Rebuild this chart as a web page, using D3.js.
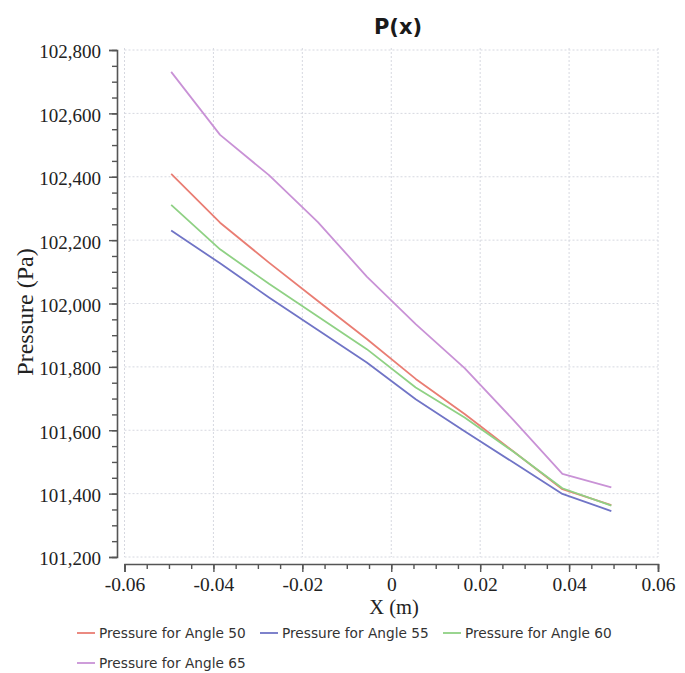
<!DOCTYPE html>
<html>
<head>
<meta charset="utf-8">
<script src="https://cdn.jsdelivr.net/npm/d3@7"></script>
<style>
  body { margin: 0; background: #fff; }
  .tick text { font-family: "Liberation Serif", "Times New Roman", serif; fill: #222; }
  .grid line { stroke: #d6d8e0; stroke-dasharray: 2,2; }
</style>
</head>
<body>
<svg id="chart" width="685" height="673"></svg>
<script>
// x positions of the sample points (m)
var xs = [-0.0495, -0.0385, -0.0275, -0.0165, -0.0055, 0.0055, 0.0165, 0.0275, 0.0385, 0.0495];

// pressure (Pa) per angle
var p50 = [102409, 102255, 102129, 102008, 101888, 101762, 101651, 101533, 101414, 101364];
var p55 = [102230, 102127, 102019, 101916, 101814, 101698, 101597, 101498, 101399, 101345];
var p60 = [102311, 102171, 102062, 101959, 101856, 101735, 101640, 101532, 101417, 101362];
var p65 = [102731, 102532, 102405, 102257, 102085, 101935, 101796, 101632, 101462, 101420];

var seriesNames = ["Pressure for Angle 50", "Pressure for Angle 55", "Pressure for Angle 60", "Pressure for Angle 65"];
var seriesColors = ["#e97d73", "#7074c6", "#8fd184", "#c992d6"];

var xTicks = [-0.06, -0.04, -0.02, 0, 0.02, 0.04, 0.06];
var yTicks = [101200, 101400, 101600, 101800, 102000, 102200, 102400, 102600, 102800];

var series = [p50, p55, p60, p65].map(function (vals, i) {
    return {
        name: seriesNames[i],
        color: seriesColors[i],
        values: vals.map(function (v, j) { return [xs[j], v]; })
    };
});

var svg = d3.select('#chart');

var x = d3.scaleLinear()
    .domain([-0.06, 0.06])
    .range([124.5, 658]);

var y = d3.scaleLinear()
    .domain([101200, 102800])
    .range([557, 50]);

// grid
var grid = svg.append('g').attr('class', 'grid');
grid.selectAll('line.gx')
    .data(xTicks)
    .enter().append('line')
    .attr('x1', function (d) { return x(d); })
    .attr('x2', function (d) { return x(d); })
    .attr('y1', y(102800) - 2)
    .attr('y2', y(101200));
grid.selectAll('line.gy')
    .data(yTicks)
    .enter().append('line')
    .attr('x1', x(-0.06))
    .attr('x2', x(0.06))
    .attr('y1', function (d) { return y(d); })
    .attr('y2', function (d) { return y(d); });

// y axis, minor then major ticks
var yAxisX = 117;
var yMinor = svg.append('g')
    .attr('transform', 'translate(' + yAxisX + ',0)')
    .call(d3.axisLeft(y).tickValues(d3.range(101200, 102801, 50)).tickSize(5).tickFormat(''));
yMinor.select('.domain').remove();

var yMajor = svg.append('g')
    .attr('transform', 'translate(' + yAxisX + ',0)')
    .call(d3.axisLeft(y).tickValues(yTicks).tickSize(8).tickPadding(8).tickFormat(d3.format(',')));
yMajor.selectAll('text').attr('font-size', 19).attr('dy', '0.42em');

// x axis
var xAxisY = 564;
var xMinor = svg.append('g')
    .attr('transform', 'translate(0,' + xAxisY + ')')
    .call(d3.axisBottom(x).tickValues(d3.range(-60, 61, 5).map(function (d) { return d / 1000; })).tickSize(5).tickFormat(''));
xMinor.select('.domain').remove();

var xMajor = svg.append('g')
    .attr('transform', 'translate(0,' + xAxisY + ')')
    .call(d3.axisBottom(x).tickValues(xTicks).tickSize(8).tickPadding(5).tickFormat(function (d) {
        return d === 0 ? '0' : d.toFixed(2);
    }));
xMajor.selectAll('text').attr('font-size', 19.5);

svg.selectAll('.domain').attr('stroke', '#555').attr('stroke-width', 1.6);
svg.selectAll('.tick line').attr('stroke', '#555').attr('stroke-width', 1.4);
svg.selectAll('g.grid line').attr('stroke', '#d6d8e0');

// lines
var line = d3.line()
    .x(function (d) { return x(d[0]); })
    .y(function (d) { return y(d[1]); });

svg.append('g').selectAll('path')
    .data(series)
    .enter().append('path')
    .attr('d', function (d) { return line(d.values); })
    .attr('fill', 'none')
    .attr('stroke', function (d) { return d.color; })
    .attr('stroke-width', 1.8)
    .attr('stroke-linejoin', 'round');

// title and axis labels
svg.append('text')
    .attr('x', 398)
    .attr('y', 34)
    .attr('text-anchor', 'middle')
    .attr('font-family', 'DejaVu Sans, sans-serif')
    .attr('font-weight', 'bold')
    .attr('font-size', 21)
    .attr('fill', '#1a1a1a')
    .text('P(x)');

svg.append('text')
    .attr('x', 394)
    .attr('y', 614)
    .attr('text-anchor', 'middle')
    .attr('font-family', 'Liberation Serif, serif')
    .attr('font-size', 20.5)
    .attr('fill', '#222')
    .text('X (m)');

svg.append('text')
    .attr('transform', 'translate(33,312) rotate(-90)')
    .attr('text-anchor', 'middle')
    .attr('font-family', 'Liberation Serif, serif')
    .attr('font-size', 24)
    .attr('fill', '#222')
    .text('Pressure (Pa)');

// legend
var legendPos = [[77, 633], [260, 633], [443, 633], [77, 663]];
var legend = svg.append('g').selectAll('g')
    .data(series)
    .enter().append('g')
    .attr('transform', function (d, i) { return 'translate(' + legendPos[i][0] + ',' + legendPos[i][1] + ')'; });

legend.append('line')
    .attr('x1', 0)
    .attr('x2', 18)
    .attr('stroke', function (d) { return d.color; })
    .attr('stroke-width', 1.8);

legend.append('text')
    .attr('x', 22)
    .attr('dy', '0.35em')
    .attr('font-family', 'DejaVu Sans, sans-serif')
    .attr('font-size', 13.7)
    .attr('fill', '#333')
    .text(function (d) { return d.name; });
</script>
</body>
</html>
